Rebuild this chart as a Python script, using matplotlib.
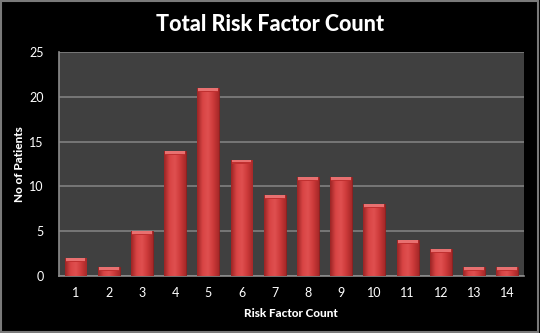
import numpy as np
import matplotlib.pyplot as plt
from matplotlib.patches import Rectangle
from matplotlib.colors import LinearSegmentedColormap

risk_factors = [str(i) for i in range(1, 15)]
patients = [2, 1, 5, 14, 21, 13, 9, 11, 11, 8, 4, 3, 1, 1]
y_ticks = [0, 5, 10, 15, 20, 25]

plt.rcParams['font.family'] = ['Lato', 'DejaVu Sans']

fig = plt.figure(figsize=(5.4, 3.33), dpi=100, facecolor='black')
ax = fig.add_axes([0.109, 0.171, 0.861, 0.673])
ax.set_facecolor('#404040')

x = np.arange(len(patients))
width = 0.66
bars = ax.bar(x, patients, width=width, color='#c83838', edgecolor='#8a1e1e',
              linewidth=0.6, zorder=3)

# horizontal shading across each bar: dark edges, lighter left-of-centre
shade = LinearSegmentedColormap.from_list(
    'shade', ['#9a2424', '#d84444', '#e05050', '#cc3a3a', '#a62828'])
grad = np.linspace(0, 1, 64).reshape(1, -1)
for b, v in zip(bars, patients):
    x0 = b.get_x()
    im = ax.imshow(grad, cmap=shade, aspect='auto', zorder=3.5,
                   extent=[x0, x0 + width, 0, v], interpolation='bicubic')
    im.set_clip_path(b)
    # bevelled top edge
    ax.add_patch(Rectangle((x0 + 0.03, v - 0.45), width - 0.06, 0.45,
                           facecolor='#e87070', edgecolor='none', zorder=4))
    ax.add_patch(Rectangle((x0 + 0.03, v - 0.45), width - 0.06, 0.12,
                           facecolor='#c03030', edgecolor='none', zorder=4))

ax.set_xlim(-0.5, len(patients) - 0.5)
ax.set_ylim(0, 25)
ax.set_yticks(y_ticks)
ax.set_xticks(x)
ax.set_xticklabels(risk_factors)
ax.tick_params(colors='white', labelsize=9, length=0, pad=8)
ax.tick_params(axis='y', pad=11)
ax.grid(axis='y', color='#808080', linewidth=1.2, zorder=1)
for side in ['top', 'right']:
    ax.spines[side].set_visible(False)
for side in ['left', 'bottom']:
    ax.spines[side].set_color('#8c8c8c')
    ax.spines[side].set_linewidth(1.2)

ax.set_xlabel('Risk Factor Count', color='white', fontsize=8.5, fontweight='black',
              labelpad=6)
ax.set_ylabel('No of Patients', color='white', fontsize=8.5, fontweight='black')
ax.yaxis.set_label_coords(-0.073, 0.5)
fig.text(0.5, 0.925, 'Total Risk Factor Count', color='white', fontsize=15.5,
         fontweight='black', ha='center', va='center')

fig.patches.append(Rectangle((0.002, 0.003), 0.995, 0.994,
                             transform=fig.transFigure, fill=False,
                             edgecolor='#7a7a7a', linewidth=1.5))

fig.savefig('out.png', dpi=100, facecolor='black')
